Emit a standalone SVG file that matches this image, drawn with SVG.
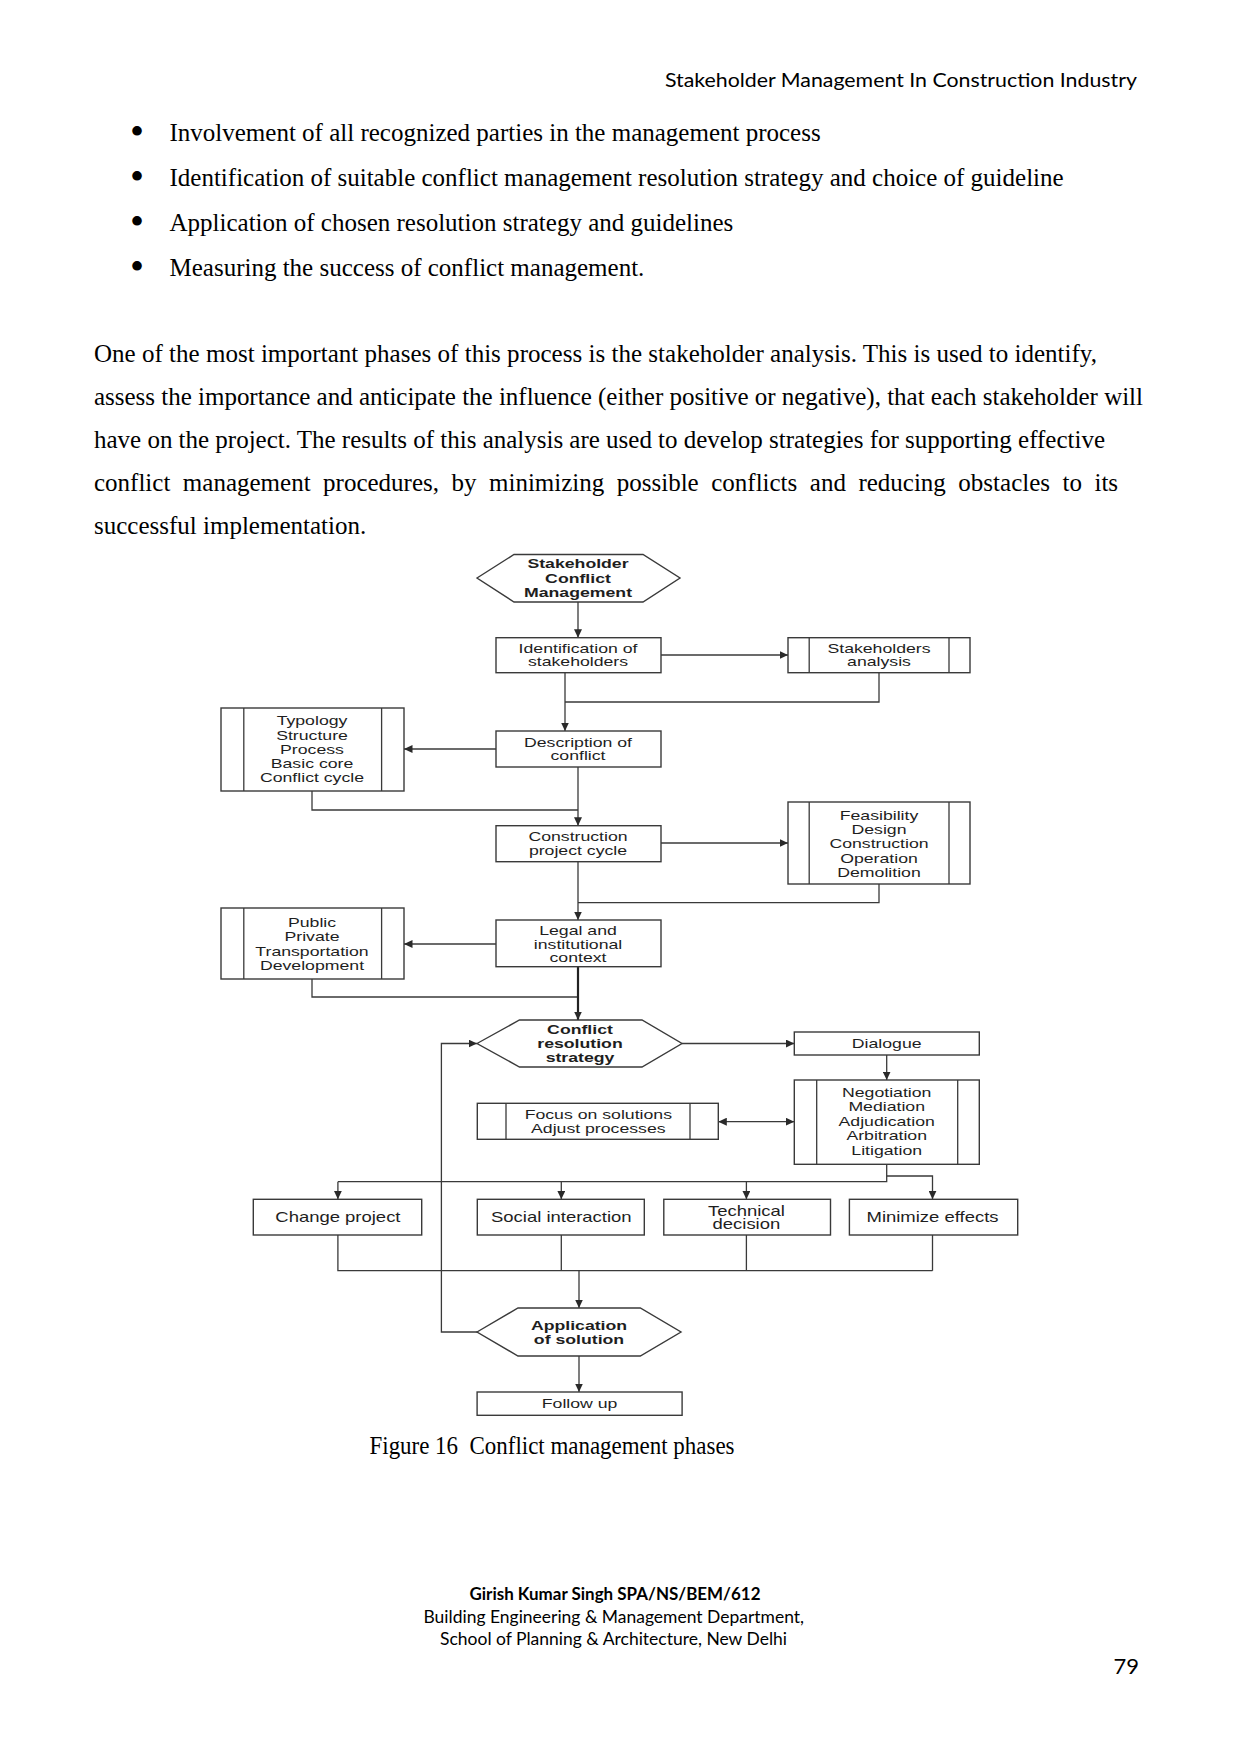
<svg xmlns="http://www.w3.org/2000/svg" width="1241" height="1754" viewBox="0 0 1241 1754">
<style>
.bg{fill:#fff}
.body{font-family:"Liberation Serif","Times New Roman",serif;font-size:25px;fill:#000}
.bul{font-family:"Liberation Serif","Times New Roman",serif;font-size:40px;fill:#000}
.cal{font-family:Lato,"Liberation Sans",sans-serif;fill:#000}
.d{font-family:"Liberation Sans",Arial,sans-serif;font-size:13.5px;fill:#1e1e1e;text-anchor:middle}
.d13{font-size:14px}
.b{font-weight:bold}
.box{fill:#fff;stroke:#3a3a3a;stroke-width:1.4}
.ln{fill:none;stroke:#3a3a3a;stroke-width:1.3}
.thick{stroke-width:2.2;stroke:#222}
.ah{fill:#2a2a2a}
</style>
<defs>
<marker id="arr" markerUnits="userSpaceOnUse" markerWidth="9" markerHeight="8" refX="8.5" refY="4" orient="auto-start-reverse">
<path class="ah" d="M0,0 L8.5,4 L0,8 Z"/>
</marker>
</defs>
<rect class="bg" x="0" y="0" width="1241" height="1754"/>

<g id="header">
<text class="cal" x="665" y="86.5" font-size="19.5" textLength="472" lengthAdjust="spacingAndGlyphs">Stakeholder Management In Construction Industry</text>
</g>

<g id="bullets" class="body">
<text class="bul" x="130" y="145">•</text>
<text x="169.5" y="140.5">Involvement of all recognized parties in the management process</text>
<text class="bul" x="130" y="190">•</text>
<text x="169.5" y="185.5">Identification of suitable conflict management resolution strategy and choice of guideline</text>
<text class="bul" x="130" y="235">•</text>
<text x="169.5" y="230.5">Application of chosen resolution strategy and guidelines</text>
<text class="bul" x="130" y="280">•</text>
<text x="169.5" y="275.5">Measuring the success of conflict management.</text>
</g>

<g id="paragraph" class="body">
<text x="94" y="362" textLength="1003" lengthAdjust="spacing">One of the most important phases of this process is the stakeholder analysis. This is used to identify,</text>
<text x="94" y="405" textLength="1049" lengthAdjust="spacing">assess the importance and anticipate the influence (either positive or negative), that each stakeholder will</text>
<text x="94" y="448" textLength="1011" lengthAdjust="spacing">have on the project. The results of this analysis are used to develop strategies for supporting effective</text>
<text x="94" y="491" word-spacing="6.25">conflict management procedures, by minimizing possible conflicts and reducing obstacles to its</text>
<text x="94" y="534">successful implementation.</text>
</g>

<g id="connectors">
<path class="ln" d="M578,602 V637.7" marker-end="url(#arr)"/>
<path class="ln" d="M661,655 H788" marker-end="url(#arr)"/>
<path class="ln" d="M565,672.7 V702 M879,672.7 V702 H565"/>
<path class="ln" d="M565,702 V731" marker-end="url(#arr)"/>
<path class="ln" d="M496,749 H404" marker-end="url(#arr)"/>
<path class="ln" d="M312,791 V810 H578"/>
<path class="ln" d="M578,767 V825.7" marker-end="url(#arr)"/>
<path class="ln" d="M661,843 H788" marker-end="url(#arr)"/>
<path class="ln" d="M879,884 V902.7 H578"/>
<path class="ln" d="M578,861.7 V920" marker-end="url(#arr)"/>
<path class="ln" d="M496,944 H404" marker-end="url(#arr)"/>
<path class="ln" d="M312,979 V997 H578"/>
<path class="ln thick" d="M578,966.7 V1020" marker-end="url(#arr)"/>
<path class="ln" d="M682,1043.5 H794.3" marker-end="url(#arr)"/>
<path class="ln" d="M886.7,1055 V1080" marker-end="url(#arr)"/>
<path class="ln" d="M718.3,1121.7 H794.3" marker-start="url(#arr)" marker-end="url(#arr)"/>
<path class="ln" d="M886.7,1164.3 V1181.7 H337.9"/>
<path class="ln" d="M886.7,1176 H932.5 V1199.3" marker-end="url(#arr)"/>
<path class="ln" d="M337.9,1181.7 V1199.3" marker-end="url(#arr)"/>
<path class="ln" d="M561.3,1181.7 V1199.3" marker-end="url(#arr)"/>
<path class="ln" d="M746.4,1181.7 V1199.3" marker-end="url(#arr)"/>
<path class="ln" d="M337.9,1235 V1270.7 H932.5 M561.3,1235 V1270.7 M746.4,1235 V1270.7 M932.5,1235 V1270.7"/>
<path class="ln" d="M579,1270.7 V1308" marker-end="url(#arr)"/>
<path class="ln" d="M477,1332 H441.4 V1043.5 H477" marker-end="url(#arr)"/>
<path class="ln" d="M579,1356 V1392" marker-end="url(#arr)"/>
</g>

<g id="n-stakeholder-conflict-management">
<polygon class="box" points="477,578 514,554.5 643,554.5 680,578 643,602 514,602"/>
<text class="d b" transform="translate(578 0) scale(1.31 1)" y="568">Stakeholder</text>
<text class="d b" transform="translate(578 0) scale(1.31 1)" y="583">Conflict</text>
<text class="d b" transform="translate(578 0) scale(1.31 1)" y="597">Management</text>
</g>

<g id="n-identification">
<rect class="box" x="496" y="637.7" width="165" height="35"/>
<text class="d" transform="translate(578 0) scale(1.31 1)" y="653">Identification of</text>
<text class="d" transform="translate(578 0) scale(1.31 1)" y="666.4">stakeholders</text>
</g>

<g id="n-stakeholders-analysis">
<rect class="box" x="788" y="637.7" width="182" height="35"/>
<path class="ln" d="M809.2,637.7 V672.7 M949,637.7 V672.7"/>
<text class="d" transform="translate(879 0) scale(1.31 1)" y="653">Stakeholders</text>
<text class="d" transform="translate(879 0) scale(1.31 1)" y="666.4">analysis</text>
</g>

<g id="n-description">
<rect class="box" x="496" y="731" width="165" height="36"/>
<text class="d" transform="translate(578 0) scale(1.31 1)" y="747">Description of</text>
<text class="d" transform="translate(578 0) scale(1.31 1)" y="760.4">conflict</text>
</g>

<g id="n-typology">
<rect class="box" x="221" y="708" width="183" height="83"/>
<path class="ln" d="M243.8,708 V791 M381.6,708 V791"/>
<text class="d" transform="translate(312 0) scale(1.31 1)" y="725.4">Typology</text>
<text class="d" transform="translate(312 0) scale(1.31 1)" y="739.7">Structure</text>
<text class="d" transform="translate(312 0) scale(1.31 1)" y="753.7">Process</text>
<text class="d" transform="translate(312 0) scale(1.31 1)" y="767.7">Basic core</text>
<text class="d" transform="translate(312 0) scale(1.31 1)" y="781.7">Conflict cycle</text>
</g>

<g id="n-construction-cycle">
<rect class="box" x="496" y="825.7" width="165" height="36"/>
<text class="d" transform="translate(578 0) scale(1.31 1)" y="840.7">Construction</text>
<text class="d" transform="translate(578 0) scale(1.31 1)" y="855">project cycle</text>
</g>

<g id="n-feasibility">
<rect class="box" x="788" y="802" width="182" height="82"/>
<path class="ln" d="M809.2,802 V884 M949,802 V884"/>
<text class="d" transform="translate(879 0) scale(1.31 1)" y="819.7">Feasibility</text>
<text class="d" transform="translate(879 0) scale(1.31 1)" y="833.7">Design</text>
<text class="d" transform="translate(879 0) scale(1.31 1)" y="847.7">Construction</text>
<text class="d" transform="translate(879 0) scale(1.31 1)" y="862.7">Operation</text>
<text class="d" transform="translate(879 0) scale(1.31 1)" y="876.7">Demolition</text>
</g>

<g id="n-legal">
<rect class="box" x="496" y="920" width="165" height="46.7"/>
<text class="d" transform="translate(578 0) scale(1.31 1)" y="934.7">Legal and</text>
<text class="d" transform="translate(578 0) scale(1.31 1)" y="948.7">institutional</text>
<text class="d" transform="translate(578 0) scale(1.31 1)" y="962.4">context</text>
</g>

<g id="n-public">
<rect class="box" x="221" y="908" width="183" height="71"/>
<path class="ln" d="M243.8,908 V979 M381.6,908 V979"/>
<text class="d" transform="translate(312 0) scale(1.31 1)" y="927.4">Public</text>
<text class="d" transform="translate(312 0) scale(1.31 1)" y="941.4">Private</text>
<text class="d" transform="translate(312 0) scale(1.31 1)" y="955.7">Transportation</text>
<text class="d" transform="translate(312 0) scale(1.31 1)" y="969.7">Development</text>
</g>

<g id="n-conflict-resolution">
<polygon class="box" points="477,1043.5 519.5,1020 642,1020 682,1043.5 642,1067 519.5,1067"/>
<text class="d b" transform="translate(580 0) scale(1.31 1)" y="1033.7">Conflict</text>
<text class="d b" transform="translate(580 0) scale(1.31 1)" y="1048">resolution</text>
<text class="d b" transform="translate(580 0) scale(1.31 1)" y="1062">strategy</text>
</g>

<g id="n-dialogue">
<rect class="box" x="794.3" y="1032" width="185" height="23"/>
<text class="d" transform="translate(886.7 0) scale(1.31 1)" y="1048">Dialogue</text>
</g>

<g id="n-negotiation">
<rect class="box" x="794.3" y="1080" width="185" height="84.3"/>
<path class="ln" d="M816.7,1080 V1164.3 M957.7,1080 V1164.3"/>
<text class="d" transform="translate(886.7 0) scale(1.31 1)" y="1096.7">Negotiation</text>
<text class="d" transform="translate(886.7 0) scale(1.31 1)" y="1111.4">Mediation</text>
<text class="d" transform="translate(886.7 0) scale(1.31 1)" y="1125.7">Adjudication</text>
<text class="d" transform="translate(886.7 0) scale(1.31 1)" y="1140.4">Arbitration</text>
<text class="d" transform="translate(886.7 0) scale(1.31 1)" y="1154.7">Litigation</text>
</g>

<g id="n-focus">
<rect class="box" x="477.3" y="1103.3" width="241" height="36"/>
<path class="ln" d="M506,1103.3 V1139.3 M690,1103.3 V1139.3"/>
<text class="d" transform="translate(598.3 0) scale(1.31 1)" y="1118.7">Focus on solutions</text>
<text class="d" transform="translate(598.3 0) scale(1.31 1)" y="1133">Adjust processes</text>
</g>

<g id="n-change-project">
<rect class="box" x="253.3" y="1199.3" width="168.4" height="35.7"/>
<text class="d d13" transform="translate(337.9 0) scale(1.32 1)" y="1222.5">Change project</text>
</g>

<g id="n-social-interaction">
<rect class="box" x="477.3" y="1199.3" width="167" height="35.7"/>
<text class="d d13" transform="translate(561.3 0) scale(1.32 1)" y="1222.5">Social interaction</text>
</g>

<g id="n-technical-decision">
<rect class="box" x="663.8" y="1199.3" width="166.7" height="35.7"/>
<text class="d d13" transform="translate(746.4 0) scale(1.32 1)" y="1215.7">Technical</text>
<text class="d d13" transform="translate(746.4 0) scale(1.32 1)" y="1229">decision</text>
</g>

<g id="n-minimize-effects">
<rect class="box" x="849.4" y="1199.3" width="168.3" height="35.7"/>
<text class="d d13" transform="translate(932.5 0) scale(1.32 1)" y="1222.5">Minimize effects</text>
</g>

<g id="n-application">
<polygon class="box" points="477,1332 518,1308 640.3,1308 681,1332 640.3,1356 518,1356"/>
<text class="d b" transform="translate(579 0) scale(1.31 1)" y="1329.7">Application</text>
<text class="d b" transform="translate(579 0) scale(1.31 1)" y="1343.7">of solution</text>
</g>

<g id="n-follow-up">
<rect class="box" x="477.1" y="1392" width="205" height="23.3"/>
<text class="d" transform="translate(579.6 0) scale(1.31 1)" y="1408">Follow up</text>
</g>

<g id="caption">
<text class="body" x="369.5" y="1453.5" font-size="22.5" textLength="365" lengthAdjust="spacingAndGlyphs" xml:space="preserve">Figure 16  Conflict management phases</text>
</g>

<g id="footer" class="cal">
<text x="469.5" y="1599.5" font-size="16.5" font-weight="bold" textLength="291" lengthAdjust="spacingAndGlyphs">Girish Kumar Singh SPA/NS/BEM/612</text>
<text x="423.5" y="1622.5" font-size="16.5" textLength="380.5" lengthAdjust="spacingAndGlyphs">Building Engineering &amp; Management Department,</text>
<text x="440" y="1645" font-size="16.5" textLength="347" lengthAdjust="spacingAndGlyphs">School of Planning &amp; Architecture, New Delhi</text>
<text x="1139" y="1674" font-size="22" text-anchor="end">79</text>
</g>
</svg>
